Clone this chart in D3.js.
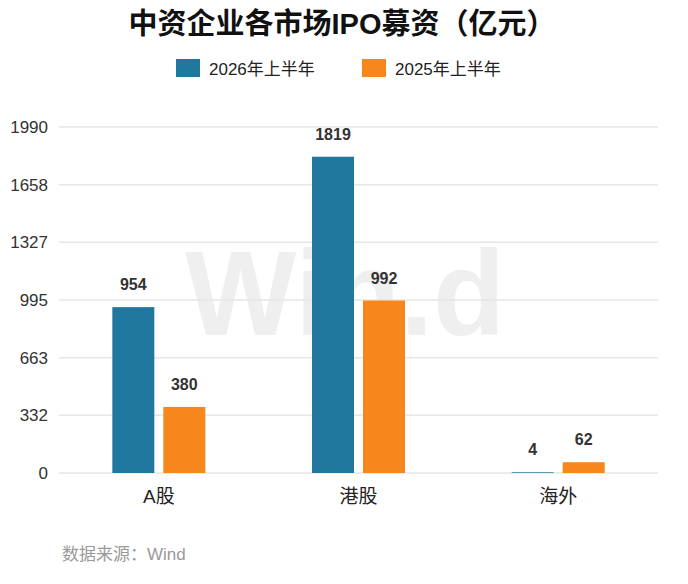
<!DOCTYPE html><html><head><meta charset="utf-8"><script src="https://cdn.jsdelivr.net/npm/d3@7"></script>
<style>body{margin:0;background:#fff}text{font-family:"Liberation Sans","Noto Sans CJK SC",sans-serif}</style></head><body>
<svg id="c" width="688" height="584"></svg>
<script>
const categories=["A股","港股","海外"];
const seriesNames=["2026年上半年","2025年上半年"];
const values2026=[954,1819,4];
const values2025=[380,992,62];
const yTicks=[0,332,663,995,1327,1658,1990];
const colors=["#21789f","#f7861c"];
const svg=d3.select("#c");
const y=d3.scaleLinear().domain([0,1990]).range([473,127]);
const x=d3.scaleBand().domain(categories).range([59,658]).paddingInner(0.33).paddingOuter(0.165);
svg.append("text").attr("x",342).attr("y",34).attr("text-anchor","middle").attr("font-size",29).attr("font-weight","bold").attr("fill","#111").text("中资企业各市场IPO募资（亿元）");
svg.append("text").attr("x",185).attr("y",335).attr("textLength",320).attr("lengthAdjust","spacingAndGlyphs").attr("font-size",120).attr("font-weight","bold").attr("fill","#000").attr("opacity",0.06).text("Win.d");
const lg=[[176,seriesNames[0]],[362,seriesNames[1]]];
lg.forEach((l,i)=>{svg.append("rect").attr("x",l[0]).attr("y",59).attr("width",24).attr("height",18).attr("fill",colors[i]);
svg.append("text").attr("x",l[0]+33).attr("y",75).attr("font-size",17).attr("fill","#222").text(l[1]);});
yTicks.forEach(t=>{svg.append("line").attr("x1",59).attr("x2",658).attr("y1",y(t)).attr("y2",y(t)).attr("stroke","#e6e6e6").attr("stroke-width",1.5);
svg.append("text").attr("x",48).attr("y",y(t)+6).attr("text-anchor","end").attr("font-size",17).attr("fill","#333").text(t);});
const bw=42;
[values2026,values2025].forEach((vals,s)=>{
 categories.forEach((c,i)=>{const cx=x(c)+x.bandwidth()/2; const bx=s===0?cx-bw-4.5:cx+4.5;
  svg.append("rect").attr("x",bx).attr("y",y(vals[i])).attr("width",bw).attr("height",y(0)-y(vals[i])).attr("fill",colors[s]);
  svg.append("text").attr("x",bx+bw/2).attr("y",y(vals[i])-17).attr("text-anchor","middle").attr("font-size",16).attr("font-weight","bold").attr("fill","#333").text(vals[i]);
 });});
categories.forEach(c=>{svg.append("text").attr("x",x(c)+x.bandwidth()/2).attr("y",503).attr("text-anchor","middle").attr("font-size",19).attr("fill","#222").text(c);});
svg.append("text").attr("x",62).attr("y",560).attr("font-size",17).attr("fill","#999").text("数据来源：Wind");
</script></body></html>
